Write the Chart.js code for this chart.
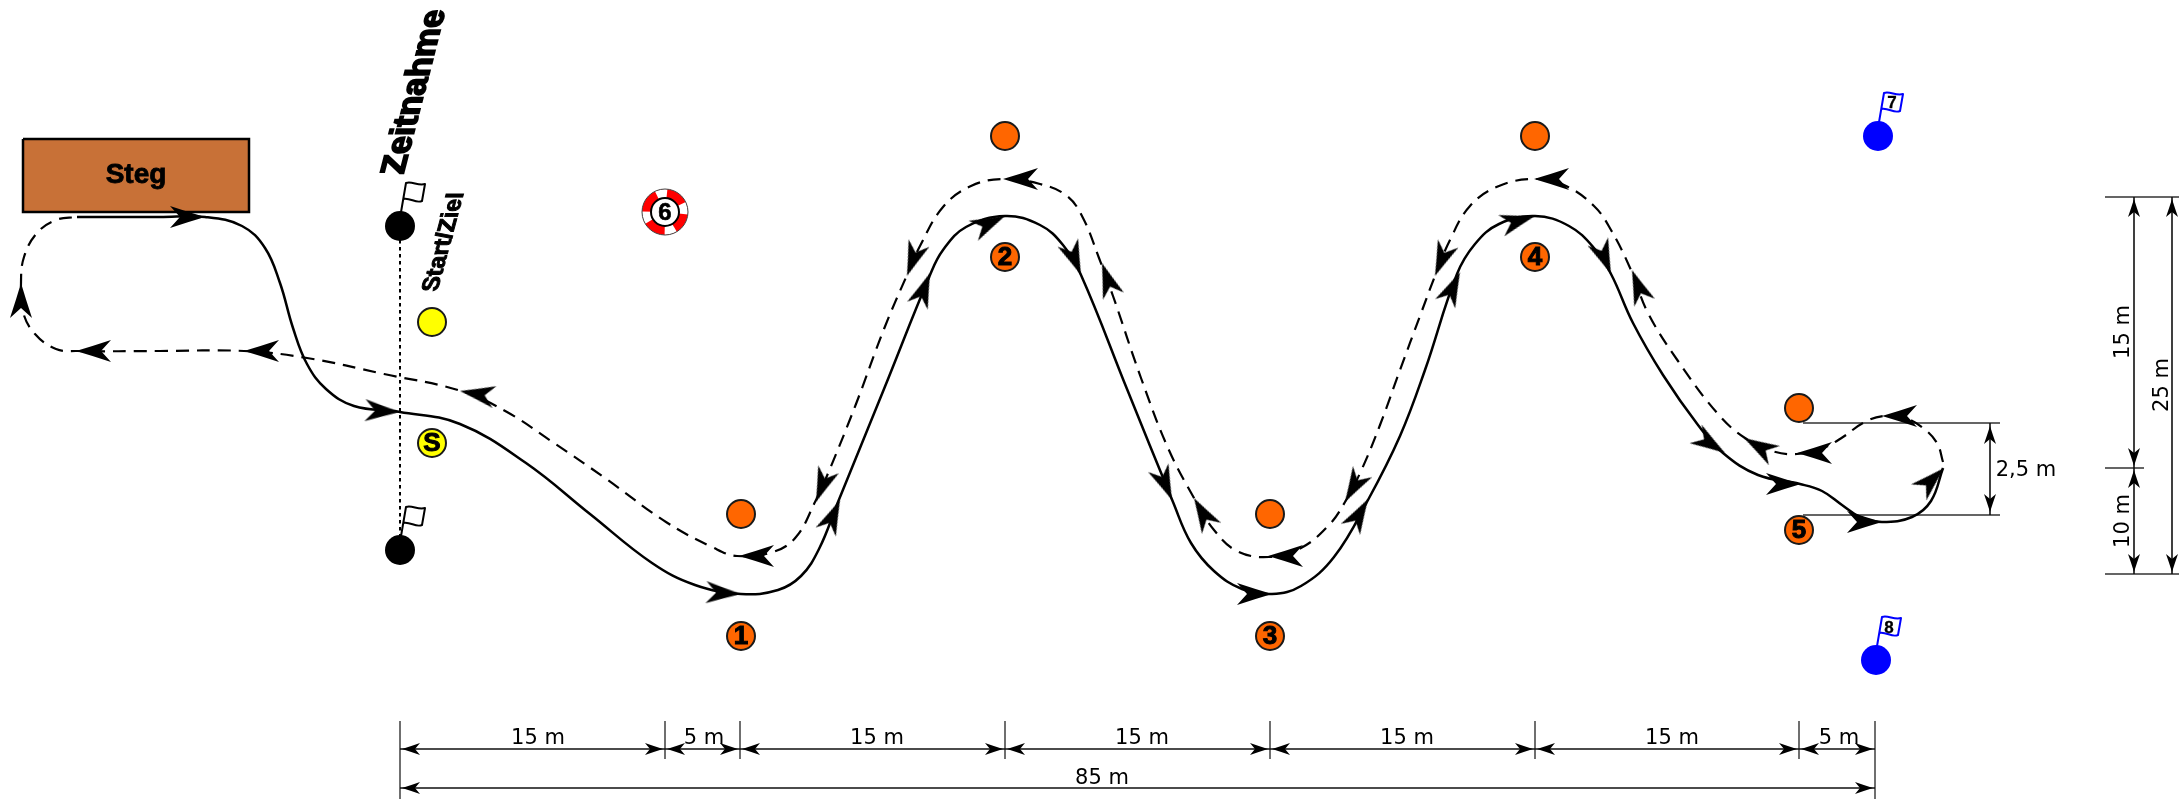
<!DOCTYPE html>
<html>
<head>
<meta charset="utf-8">
<title>Zeitnahme</title>
<style>
    html, body { margin: 0; padding: 0; background: #fff; }
    canvas { display: block; }
</style>
<script src="https://cdn.jsdelivr.net/npm/chart.js@4"></script>
</head>
<body>
<canvas id="course" width="2179" height="799"></canvas>
<script>
// Course values in drawing units (axes run 0-2179 and 799-0)
const solidPath = [
    [77,217],[160,217],[205,217],[242,226],[265,248],[280,283],[293,328],[307,364],[326,389],[354,406],[400,412],
    [460,424],[526,463],[590,514],[652,563],[695,585],[741,594],[778,590],[801,576],
    [819,549],[838,502],[884,389],[930,275],[943,250],[966,227],[1005,216],[1040,225],[1063,245],[1081,275],[1127,389],[1173,502],
    [1191,543],[1214,571],[1242,589],[1272,594],[1301,586],[1334,557],[1368,500],[1400,436],[1425,370],
    [1457,274],[1475,244],[1499,224],[1535,216],[1569,226],[1594,248],[1611,274],[1633,323],[1663,375],[1698,425],
    [1723,453],[1758,475],[1800,484],[1822,491],[1842,505],[1860,517],[1882,522],[1912,517],[1931,501],[1943,468]
];
const dashedPath = [
    [1943,462],[1937,443],[1923,428],[1905,418],[1883,416],[1863,423],[1843,437],[1823,448],[1797,454],[1772,451],
    [1745,438],[1718,414],[1678,361],[1648,313],[1631,270],[1611,230],[1594,206],[1564,185],[1535,179],[1499,186],
    [1470,206],[1450,240],[1435,276],[1420,316],[1400,370],[1380,425],[1361,471],[1345,502],[1329,525],[1301,548],
    [1269,557],[1237,551],[1214,530],[1194,498],[1168,448],[1141,378],[1113,296],[1099,258],[1083,218],[1067,196],
    [1040,184],[1003,179],[971,186],[943,207],[920,246],[907,275],[884,329],[856,404],[829,471],[815,502],
    [796,537],[773,552],[737,556],[712,547],[666,522],[605,478],[554,443],[507,412],[461,391],
    [384,374],[307,358],[244,351],[160,351],[77,351],[56,349],[35,334],[23,312],[21,283],[24,257],[37,233],[56,220],[77,217]
];
// x, y, direction in degrees
const solidArrows = [
    [205,217,0],[400,412,3],[741,594,3],[840,500,-66],[930,273,-69],[1005,216,-25],[1081,275,68],[1172,500,67],
    [1272,594,0],[1368,499,-60],[1460,272,-65],[1535,216,-16],[1611,274,68],[1725,453,33],[1801,484,0],[1882,522,0],[1944,468,-44]
];
const dashedArrows = [
    [1882,416,180],[1797,453,180],[1744,438,210],[1534,179,180],[1435,276,112],[1632,270,-111],[1003,179,180],
    [907,276,110],[1102,263,-109],[816,502,111],[739,556,180],[1194,498,-120],[1268,556,180],[1345,502,120],
    [460,391,190],[244,351,180],[76,351,180],[21,283,-90]
];
const orangeBuoys = [[741,514],[741,636],[1005,136],[1005,257],[1270,514],[1270,636],[1535,136],[1535,257],[1799,408],[1799,530]];
const yellowBuoys = [[432,322],[432,443]];
const blackBuoys = [[400,226],[400,550]];
const blueBuoys = [[1878,136],[1876,660]];
const lifeBuoys = [[665,212]];
const stegBox = [[23,139],[249,139],[249,212],[23,212],[23,139]];

// Dimension marks
const dimTicksX = [400,665,740,1005,1270,1535,1799,1875];
const dimRowY = 749;
const dimTotalY = 788;
const dimTickTop = 721;
const dimTickBottom = 759;
const sideTicksY = [197,468,574];
const sideTickEnds = [2179,2144,2179];
const sideX1 = 2134;
const sideX2 = 2172;
const gapLinesY = [423,515];
const gapLineX = [1803,2000];
const gapX = 1990;

// text, x, y, style, baseline angle
const labels = [
    ["Steg",136,175,"steg",0],
    ["Zeitnahme",415,92,"head",-75.6],
    ["Start/Ziel",444,242,"sub",-75],
    ["1",741,637,"num",0],["2",1005,258,"num",0],["3",1270,637,"num",0],["4",1535,258,"num",0],["5",1799,531,"num",0],
    ["S",432,444,"num",0],["6",665,213,"six",0],["7",1892,103,"flag",0],["8",1889,628,"flag",0],
    ["15 m",538,739,"dim",0],["5 m",704,739,"dim",0],["15 m",877,739,"dim",0],["15 m",1142,739,"dim",0],
    ["15 m",1407,739,"dim",0],["15 m",1672,739,"dim",0],["5 m",1839,739,"dim",0],["85 m",1102,779,"dim",0],
    ["15 m",2124,332,"dim",-90],["10 m",2124,521,"dim",-90],["25 m",2163,385,"dim",-90],["2,5 m",2026,471,"dim",0]
];

const textStyles = {
    steg: { font: "bold 28px 'Liberation Sans'", stroke: 0.8 },
    head: { font: "bold 34px 'Liberation Sans'", stroke: 1.8, sheared: true },
    sub: { font: "bold 24px 'Liberation Sans'", stroke: 1, sheared: true },
    num: { font: "bold 26px 'Liberation Sans'", stroke: 1 },
    six: { font: "bold 24px 'Liberation Sans'", stroke: 0.6 },
    flag: { font: "bold 17px 'Liberation Sans'", stroke: 0.3 },
    dim: { font: "21px 'DejaVu Sans'", stroke: 0 }
};

const toPoints = list => list.map(p => ({ x: p[0], y: p[1] }));

// Arrow head with its tip at the middle of the canvas, so rotation turns it around the tip
function makeArrow(len, halfWidth, notch) {
    const c = document.createElement("canvas");
    c.width = (len + 2) * 2;
    c.height = (halfWidth + 2) * 2;
    const ctx = c.getContext("2d");
    const cx = c.width / 2, cy = c.height / 2;
    ctx.fillStyle = "#000";
    ctx.beginPath();
    ctx.moveTo(cx, cy);
    ctx.quadraticCurveTo(cx - len * 0.5, cy - halfWidth * 0.47, cx - len, cy - halfWidth);
    ctx.lineTo(cx - len + notch, cy);
    ctx.lineTo(cx - len, cy + halfWidth);
    ctx.quadraticCurveTo(cx - len * 0.5, cy + halfWidth * 0.47, cx, cy);
    ctx.fill();
    return c;
}

// Flag on a pole, the middle of the canvas sits on the buoy
function makeFlag(color) {
    const c = document.createElement("canvas");
    c.width = 100;
    c.height = 100;
    const ctx = c.getContext("2d");
    ctx.translate(50, 50);
    ctx.strokeStyle = color;
    ctx.lineWidth = 2;
    ctx.lineJoin = "round";
    ctx.beginPath();
    ctx.moveTo(0, -8);
    ctx.lineTo(6, -43);
    ctx.bezierCurveTo(12, -45, 18, -40, 25, -42);
    ctx.lineTo(22, -25);
    ctx.bezierCurveTo(16, -22, 10, -29, 3, -27);
    ctx.stroke();
    return c;
}

function makeRing() {
    const c = document.createElement("canvas");
    c.width = 50;
    c.height = 50;
    const ctx = c.getContext("2d");
    ctx.translate(25, 25);
    ctx.fillStyle = "#ff0000";
    ctx.beginPath();
    ctx.arc(0, 0, 23, 0, Math.PI * 2);
    ctx.fill();
    ctx.fillStyle = "#fff";
    [-100, -10, 75, 165].forEach(a => {
        const from = (a - 16) * Math.PI / 180, to = (a + 16) * Math.PI / 180;
        ctx.beginPath();
        ctx.moveTo(0, 0);
        ctx.arc(0, 0, 23, from, to);
        ctx.fill();
    });
    ctx.strokeStyle = "#444";
    ctx.lineWidth = 1;
    ctx.beginPath();
    ctx.arc(0, 0, 23, 0, Math.PI * 2);
    ctx.stroke();
    ctx.fillStyle = "#fff";
    ctx.strokeStyle = "#000";
    ctx.lineWidth = 2;
    ctx.beginPath();
    ctx.arc(0, 0, 14, 0, Math.PI * 2);
    ctx.fill();
    ctx.stroke();
    return c;
}

const bigArrow = makeArrow(35, 11, 10);
const dimArrow = makeArrow(18, 6, 5);

// Dimension lines are built from the tick arrays, NaN breaks the line
const gap = { x: NaN, y: NaN };
const dimLines = [];
const dimTips = [];
dimTicksX.slice(0, -1).forEach((x, i) => {
    const next = dimTicksX[i + 1];
    dimLines.push({ x: x, y: dimRowY }, { x: next, y: dimRowY }, gap);
    dimTips.push([x + 2, dimRowY, 180], [next - 2, dimRowY, 0]);
});
const first = dimTicksX[0], last = dimTicksX[dimTicksX.length - 1];
dimLines.push({ x: first, y: dimTotalY }, { x: last, y: dimTotalY }, gap);
dimTips.push([first + 2, dimTotalY, 180], [last - 2, dimTotalY, 0]);
dimLines.push({ x: sideX1, y: sideTicksY[0] }, { x: sideX1, y: sideTicksY[2] }, gap);
dimLines.push({ x: sideX2, y: sideTicksY[0] }, { x: sideX2, y: sideTicksY[2] }, gap);
dimLines.push({ x: gapX, y: gapLinesY[0] }, { x: gapX, y: gapLinesY[1] }, gap);
dimTips.push([sideX1, sideTicksY[0] + 2, -90], [sideX1, sideTicksY[1] - 2, 90], [sideX1, sideTicksY[1] + 2, -90], [sideX1, sideTicksY[2] - 2, 90]);
dimTips.push([sideX2, sideTicksY[0] + 2, -90], [sideX2, sideTicksY[2] - 2, 90]);
dimTips.push([gapX, gapLinesY[0] + 3, -90], [gapX, gapLinesY[1] - 3, 90]);

const tickLines = [];
dimTicksX.forEach((x, i) => {
    const outer = i === 0 || i === dimTicksX.length - 1;
    tickLines.push({ x: x, y: dimTickTop }, { x: x, y: outer ? 799 : dimTickBottom }, gap);
});
sideTicksY.forEach((y, i) => tickLines.push({ x: 2105, y: y }, { x: sideTickEnds[i], y: y }, gap));
gapLinesY.forEach(y => tickLines.push({ x: gapLineX[0], y: y }, { x: gapLineX[1], y: y }, gap));

function lineSet(data, color, width, extra) {
    return Object.assign({ data: data, showLine: true, borderColor: color, borderWidth: width, pointRadius: 0, tension: 0 }, extra);
}

function markerSet(data, fill, edge, radius) {
    return {
        data: toPoints(data), showLine: false, pointRadius: radius, pointBackgroundColor: fill,
        pointBorderColor: edge, pointBorderWidth: edge === fill ? 0 : 2, pointHoverRadius: radius
    };
}

function arrowSet(list, image) {
    return {
        data: toPoints(list), showLine: false, pointStyle: image, pointRadius: 10,
        pointRotation: list.map(a => a[2])
    };
}

function imageSet(list, image) {
    return { data: toPoints(list), showLine: false, pointStyle: image, pointRadius: 10 };
}

// Real text on top of the marks
const labelPlugin = {
    id: "labelPlugin",
    afterDatasetsDraw(chart) {
        const ctx = chart.ctx;
        labels.forEach(l => {
            const style = textStyles[l[3]];
            const a = l[4] * Math.PI / 180;
            ctx.save();
            ctx.translate(chart.scales.x.getPixelForValue(l[1]), chart.scales.y.getPixelForValue(l[2]));
            // the two slanted titles keep their stems level, only the baseline climbs
            if (style.sheared) ctx.transform(Math.cos(a), Math.sin(a), 1, 0, 0, 0);
            else ctx.rotate(a);
            ctx.font = style.font;
            ctx.textAlign = "center";
            ctx.textBaseline = "middle";
            ctx.fillStyle = "#000";
            ctx.fillText(l[0], 0, 0);
            if (style.stroke) {
                ctx.strokeStyle = "#000";
                ctx.lineWidth = style.stroke;
                ctx.strokeText(l[0], 0, 0);
            }
            ctx.restore();
        });
    }
};

// First dataset ends up on top
new Chart(document.getElementById("course"), {
    type: "scatter",
    data: {
        datasets: [
            arrowSet(solidArrows, bigArrow),
            arrowSet(dashedArrows, bigArrow),
            arrowSet(dimTips, dimArrow),
            lineSet(toPoints(solidPath), "#000", 2.5, { tension: 0.4 }),
            lineSet(toPoints(dashedPath), "#000", 2.2, { tension: 0.4, borderDash: [13, 8] }),
            lineSet(dimLines, "#111", 1.6),
            lineSet(tickLines, "#333", 1.4),
            markerSet(orangeBuoys, "#ff6600", "#1a1a1a", 14),
            markerSet(yellowBuoys, "#ffff00", "#1a1a1a", 14),
            markerSet(blackBuoys, "#000000", "#000000", 15),
            markerSet(blueBuoys, "#0000ff", "#0000ff", 15),
            imageSet(blackBuoys, makeFlag("#000")),
            imageSet(blueBuoys, makeFlag("#0000ff")),
            imageSet(lifeBuoys, makeRing()),
            lineSet(toPoints([blackBuoys[0], blackBuoys[1]]), "#000", 2, { borderDash: [3.5, 3.5] }),
            lineSet(toPoints(stegBox), "#000", 2.5, { fill: "shape", backgroundColor: "#c87137" })
        ]
    },
    options: {
        responsive: false,
        animation: false,
        devicePixelRatio: 1,
        events: [],
        layout: { padding: 0, autoPadding: false },
        plugins: { legend: { display: false }, tooltip: { enabled: false } },
        scales: {
            x: { type: "linear", min: 0, max: 2179, display: false },
            y: { type: "linear", min: 0, max: 799, reverse: true, display: false }
        }
    },
    plugins: [labelPlugin]
});
</script>
</body>
</html>
